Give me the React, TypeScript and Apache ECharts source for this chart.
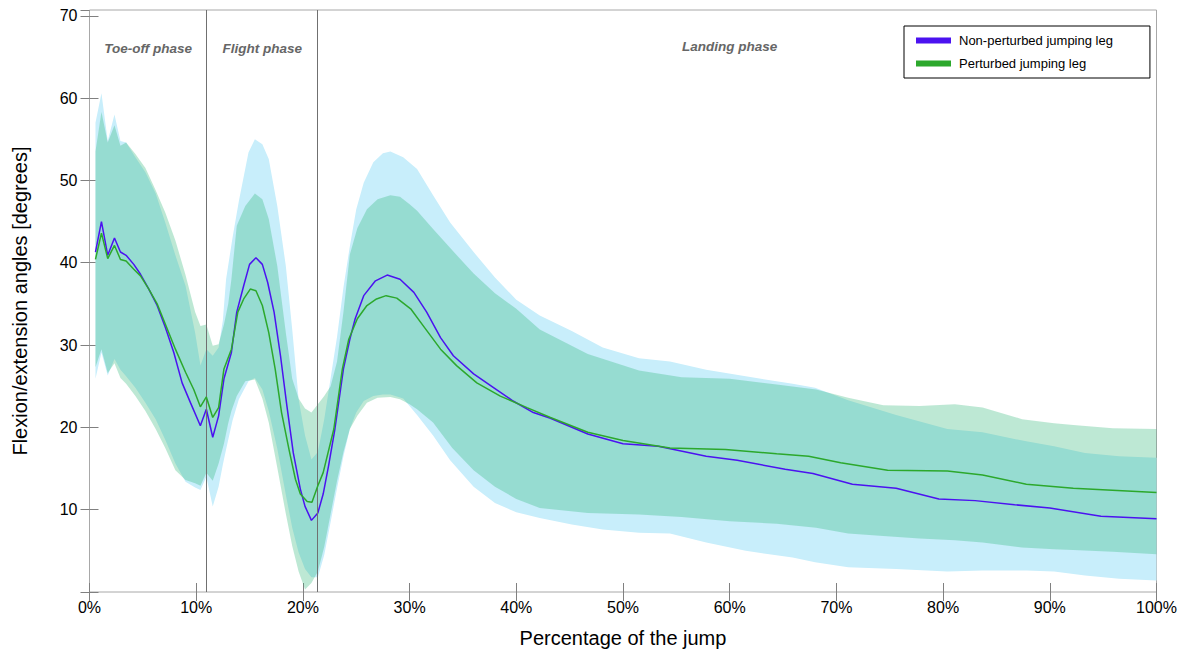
import React, { useEffect, useRef } from "react";
import * as echarts from "echarts";

// ---------- data ----------
const seriesNames = ["Non-perturbed jumping leg", "Perturbed jumping leg"];

// mean curves (x = % of jump, y = degrees)
const nonPertX = [0.56, 1.12, 1.71, 2.34, 2.9, 3.43, 4.15, 4.78, 5.56, 6.34, 7.12, 7.9, 8.68, 9.46, 10.39, 10.95, 11.55, 12.1, 12.6, 13.3, 13.8, 14.45, 15.0, 15.6, 16.2, 16.7, 17.3, 17.9, 18.5, 19.1, 19.76, 20.2, 20.8, 21.4, 21.9, 22.4, 23.0, 23.8, 24.4, 24.9, 25.7, 26.8, 27.9, 29.1, 30.4, 31.6, 32.9, 34.1, 36.0, 37.9, 39.7, 41.6, 43.2, 46.7, 50.0, 53.3, 57.8, 60.7, 65.2, 67.8, 71.5, 75.6, 79.6, 83.0, 86.7, 90.0, 94.8, 100];
const nonPertY = [41.3, 45.0, 40.9, 43.0, 41.3, 40.9, 39.8, 38.6, 36.8, 34.8, 32.1, 29.1, 25.4, 23.0, 20.2, 22.2, 18.8, 21.4, 25.9, 29.1, 34.0, 37.2, 39.8, 40.6, 39.8, 37.6, 34.0, 28.7, 22.6, 16.9, 12.5, 10.4, 8.7, 9.6, 11.9, 15.3, 19.8, 27.1, 30.7, 33.2, 36.0, 37.8, 38.5, 38.0, 36.4, 34.0, 30.9, 28.7, 26.5, 24.8, 23.2, 21.8, 21.1, 19.2, 18.0, 17.7, 16.5, 16.0, 14.9, 14.4, 13.1, 12.6, 11.3, 11.1, 10.6, 10.2, 9.2, 8.9];

const pertX = [0.56, 1.12, 1.71, 2.34, 2.9, 3.43, 4.15, 4.78, 5.56, 6.34, 7.12, 8.05, 9.0, 9.77, 10.39, 10.95, 11.55, 12.1, 12.6, 13.3, 13.9, 14.45, 15.07, 15.6, 16.2, 16.8, 17.4, 18.0, 18.7, 19.3, 19.76, 20.4, 20.85, 21.4, 21.9, 22.9, 23.7, 24.3, 25.1, 26.0, 26.9, 27.8, 28.8, 30.1, 31.3, 32.9, 34.4, 36.3, 38.5, 41.0, 43.2, 46.7, 50.0, 54.4, 59.6, 64.4, 67.4, 70.4, 74.8, 80.4, 83.7, 87.8, 92.2, 100];
const pertY = [40.4, 43.6, 40.5, 42.1, 40.4, 40.2, 39.2, 38.4, 36.8, 35.0, 32.5, 29.5, 26.7, 24.6, 22.5, 23.7, 21.2, 22.4, 27.1, 29.5, 34.0, 35.6, 36.8, 36.6, 34.8, 31.5, 27.1, 21.8, 17.3, 13.7, 11.9, 11.0, 10.9, 12.9, 14.5, 19.8, 27.1, 30.7, 33.2, 34.8, 35.6, 36.0, 35.7, 34.4, 32.3, 29.5, 27.5, 25.4, 23.8, 22.4, 21.2, 19.4, 18.4, 17.5, 17.3, 16.8, 16.5, 15.7, 14.8, 14.7, 14.2, 13.1, 12.6, 12.1];

// variability bands (lower / upper)
const nonPertBandX = [0.56, 1.12, 1.71, 2.34, 2.9, 3.43, 4.3, 5.24, 6.2, 7.1, 8.05, 9.0, 9.9, 10.4, 10.95, 11.55, 12.1, 12.5, 12.8, 13.4, 14.0, 14.9, 15.5, 16.2, 16.8, 17.6, 18.4, 19.0, 19.6, 20.2, 20.8, 21.4, 22.0, 22.6, 23.2, 23.8, 24.4, 25.0, 25.7, 26.6, 27.5, 28.2, 29.4, 30.7, 32.2, 33.8, 36.0, 38.0, 40.0, 42.2, 45.2, 48.1, 51.5, 54.4, 57.8, 61.5, 65.9, 68.0, 71.1, 75.6, 80.4, 83.7, 87.8, 90.4, 93.3, 96.5, 100];
const nonPertBandLo = [25.9, 29.1, 26.3, 28.3, 27.0, 26.2, 24.8, 23.0, 21.0, 18.5, 15.6, 13.4, 12.7, 12.4, 14.0, 10.4, 12.8, 15.5, 17.3, 20.8, 23.4, 25.6, 26.0, 24.6, 22.0, 17.4, 11.8, 7.8, 4.8, 2.8, 1.8, 1.8, 4.5, 8.5, 12.6, 16.5, 19.8, 21.8, 23.2, 23.8, 24.0, 24.0, 23.5, 21.5, 19.0, 16.0, 12.8, 10.8, 9.7, 9.0, 8.2, 7.6, 7.2, 7.1, 6.0, 5.0, 4.2, 3.6, 3.0, 2.8, 2.5, 2.6, 2.6, 2.5, 2.0, 1.6, 1.4];
const nonPertBandHi = [57.0, 60.6, 54.8, 58.0, 54.8, 54.6, 52.8, 51.0, 48.4, 44.9, 40.9, 37.2, 31.5, 27.5, 29.5, 28.7, 29.7, 33.0, 38.0, 43.0, 47.5, 53.4, 55.0, 54.4, 52.6, 46.9, 39.6, 31.9, 23.4, 19.0, 16.1, 17.0, 21.0, 26.0, 31.0, 37.0, 42.0, 46.5, 49.7, 52.2, 53.3, 53.5, 52.8, 51.4, 48.2, 44.9, 41.3, 38.2, 35.5, 33.6, 31.7, 29.7, 28.4, 28.0, 27.0, 26.2, 25.3, 24.8, 23.3, 21.5, 19.8, 19.4, 18.3, 17.7, 16.9, 16.5, 16.3];

const pertBandX = [0.56, 1.12, 1.71, 2.34, 2.9, 3.43, 4.3, 5.24, 6.2, 7.1, 8.05, 9.0, 9.9, 10.4, 10.95, 11.55, 12.1, 12.6, 13.0, 13.3, 13.8, 14.6, 15.5, 16.2, 16.8, 17.6, 18.4, 19.0, 19.6, 20.2, 20.8, 21.4, 22.0, 22.6, 23.2, 23.8, 24.4, 25.1, 26.0, 27.0, 28.2, 29.1, 30.0, 30.7, 32.2, 34.0, 36.0, 38.0, 40.0, 42.2, 46.7, 51.5, 55.5, 60.0, 64.4, 68.1, 71.1, 74.4, 77.8, 81.1, 83.7, 87.4, 90.4, 92.2, 95.9, 100];
const pertBandLo = [27.3, 29.5, 26.6, 27.8, 26.0, 25.3, 23.8, 22.0, 19.8, 17.5, 14.8, 13.6, 13.2, 12.9, 14.5, 13.5, 15.6, 18.0, 20.5, 22.0, 23.8, 25.6, 25.8, 23.5, 20.6, 15.1, 9.5, 5.6, 2.5, 0.3, 1.1, 2.5, 5.5, 9.5, 13.5, 17.0, 19.8, 21.4, 23.0, 23.6, 23.7, 23.4, 22.8, 22.2, 20.6, 17.5, 14.8, 12.8, 11.3, 10.2, 9.6, 9.4, 9.1, 8.6, 8.3, 7.8, 7.1, 6.8, 6.5, 6.3, 6.0, 5.4, 5.2, 5.1, 4.9, 4.6];
const pertBandHi = [53.5, 58.3, 54.6, 56.7, 54.2, 54.6, 53.2, 51.5, 48.8, 46.1, 42.7, 38.5, 34.0, 32.3, 32.5, 29.9, 30.1, 32.5, 35.0, 38.0, 44.5, 46.9, 48.4, 47.7, 45.3, 39.6, 31.5, 25.9, 23.5, 22.3, 21.8, 22.8, 23.8, 25.0, 28.0, 34.0, 41.0, 44.2, 46.5, 47.7, 48.2, 48.0, 47.1, 46.3, 44.1, 41.5, 38.7, 36.3, 34.4, 31.9, 28.9, 26.9, 26.1, 25.9, 25.2, 24.6, 23.6, 22.7, 22.6, 22.8, 22.4, 21.0, 20.5, 20.3, 19.9, 19.8];

// phases
const phaseBounds = [10.95, 21.35];
const phaseNames = ["Toe-off phase", "Flight phase", "Landing phase"];
const phaseLabelX = [5.5, 16.2, 60.0];
const phaseLabelY = [66.0, 66.0, 66.3];

const yTickLabels = [10, 20, 30, 40, 50, 60, 70];

const FONT = "Liberation Sans, Arial, Helvetica, sans-serif";

function bandSeries(name: string, xs: number[], lo: number[], hi: number[], fill: string, opacity: number, z: number) {
  return {
    type: "custom",
    name,
    z,
    silent: true,
    clip: true,
    data: xs.map((x, i) => [x, lo[i], hi[i]]),
    encode: { x: 0, y: [1, 2] },
    renderItem: (params: any, api: any) => {
      if (params.dataIndex !== 0) return null;
      const pts: number[][] = [];
      for (let i = 0; i < xs.length; i++) pts.push(api.coord([xs[i], hi[i]]));
      for (let i = xs.length - 1; i >= 0; i--) pts.push(api.coord([xs[i], lo[i]]));
      return {
        type: "polygon",
        shape: { points: pts },
        style: { fill, opacity, stroke: null },
      };
    },
  };
}

export default function App() {
  const ref = useRef<HTMLDivElement>(null);
  useEffect(() => {
    if (!ref.current) return;
    const chart = echarts.init(ref.current, undefined, { renderer: "svg" });
    const blue = "#4B12F0";
    const green = "#2CA82C";
    const tickStyle = { show: true, inside: true, length: 9, lineStyle: { color: "#808080", width: 1 } };
    chart.setOption({
      animation: false,
      backgroundColor: "#ffffff",
      grid: { left: 89.5, right: 36.5, top: 10, bottom: 63, show: true, borderColor: "#a8a8a8", borderWidth: 1, backgroundColor: "transparent" },
      legend: {
        data: seriesNames,
        orient: "vertical",
        left: 904,
        top: 26,
        icon: "rect",
        itemWidth: 35,
        itemHeight: 6,
        itemGap: 10,
        padding: [8, 37, 8, 12],
        backgroundColor: "#ffffff",
        borderColor: "#000000",
        borderWidth: 1,
        borderRadius: 0,
        textStyle: { fontSize: 13, color: "#000", fontFamily: FONT, padding: [0, 0, 0, 3] },
      },
      xAxis: [
        {
          type: "value",
          min: 0,
          max: 100,
          interval: 10,
          position: "bottom",
          name: "Percentage of the jump",
          nameLocation: "middle",
          nameGap: 36,
          nameTextStyle: { fontSize: 20, color: "#000", fontFamily: FONT },
          axisLine: { show: false },
          axisTick: tickStyle,
          splitLine: { show: false },
          axisLabel: { formatter: "{value}%", fontSize: 16, color: "#000", fontFamily: FONT, margin: 7 },
        },
        {
          type: "value",
          min: 0,
          max: 100,
          interval: 10,
          position: "top",
          axisLine: { show: false },
          axisTick: tickStyle,
          splitLine: { show: false },
          axisLabel: { show: false },
        },
      ],
      yAxis: [
        {
          type: "value",
          min: 0,
          max: 70.7,
          interval: 10,
          position: "left",
          name: "Flexion/extension angles [degrees]",
          nameLocation: "middle",
          nameGap: 60,
          nameTextStyle: { fontSize: 20, color: "#000", fontFamily: FONT },
          axisLine: { show: false },
          axisTick: tickStyle,
          splitLine: { show: false },
          axisLabel: {
            fontSize: 16,
            color: "#000",
            fontFamily: FONT,
            margin: 12,
            showMaxLabel: false,
            formatter: (v: number) => (yTickLabels.indexOf(Math.round(v * 10) / 10) >= 0 ? String(v) : ""),
          },
        },
        {
          type: "value",
          min: 0,
          max: 70.7,
          interval: 10,
          position: "right",
          axisLine: { show: false },
          axisTick: tickStyle,
          splitLine: { show: false },
          axisLabel: { show: false },
        },
      ],
      series: [
        bandSeries("nonPertBand", nonPertBandX, nonPertBandLo, nonPertBandHi, "rgb(200,238,251)", 1, 1),
        bandSeries("pertBand", pertBandX, pertBandLo, pertBandHi, "rgb(38,178,112)", 0.3, 2),
        {
          type: "line",
          name: seriesNames[0],
          data: nonPertX.map((x, i) => [x, nonPertY[i]]),
          showSymbol: false,
          symbol: "none",
          color: blue,
          lineStyle: { color: blue, width: 1.5 },
          z: 4,
          silent: true,
        },
        {
          type: "line",
          name: seriesNames[1],
          data: pertX.map((x, i) => [x, pertY[i]]),
          showSymbol: false,
          symbol: "none",
          color: green,
          lineStyle: { color: green, width: 1.5 },
          z: 5,
          silent: true,
        },
        {
          type: "line",
          name: "phases",
          data: [],
          z: 6,
          silent: true,
          markLine: {
            silent: true,
            symbol: ["none", "none"],
            label: { show: false },
            lineStyle: { color: "#707070", width: 1, type: "solid" },
            data: phaseBounds.map((b) => ({ xAxis: b })),
          },
        },
        {
          type: "scatter",
          name: "phaseLabels",
          symbol: "circle",
          symbolSize: 2,
          itemStyle: { color: "rgba(0,0,0,0)" },
          z: 7,
          silent: true,
          data: phaseNames.map((n, i) => ({ value: [phaseLabelX[i], phaseLabelY[i]], name: n })),
          label: {
            show: true,
            position: "inside",
            formatter: (p: any) => p.name,
            fontSize: 13.5,
            fontWeight: "bold",
            fontStyle: "italic",
            color: "#666666",
            opacity: 1,
            fontFamily: FONT,
          },
        },
      ],
    });
    return () => chart.dispose();
  }, []);
  return <div ref={ref} style={{ position: "fixed", left: 0, top: 0, width: 1193, height: 655 }} />;
}
